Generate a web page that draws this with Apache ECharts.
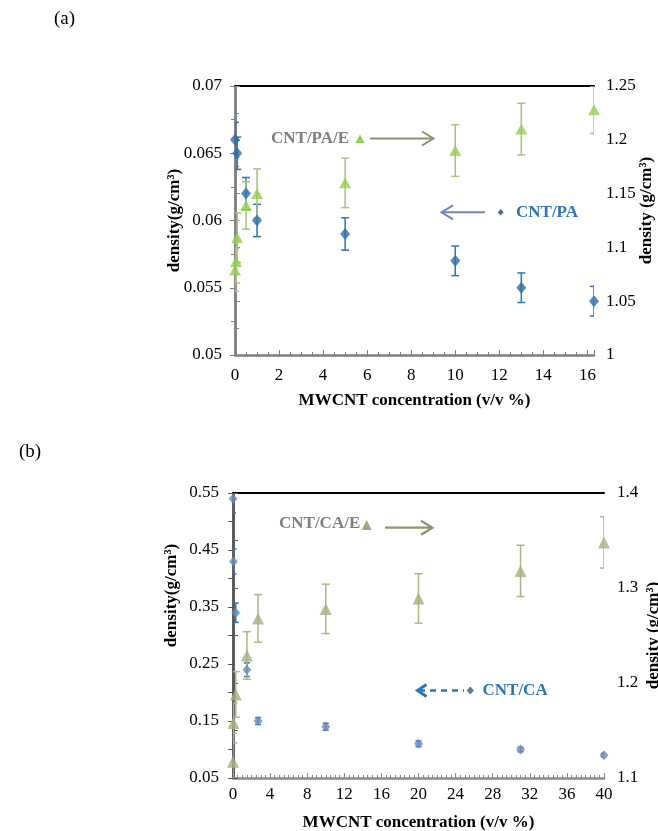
<!DOCTYPE html>
<html>
<head>
<meta charset="utf-8">
<script src="https://cdn.jsdelivr.net/npm/echarts@6/dist/echarts.min.js"></script>
<style>
html,body{margin:0;padding:0;background:#fff;}
#chart{width:658px;height:831px;}
</style>
</head>
<body>
<div id="chart"></div>
<script>
// ---- Panel (a) data ----
var paX   = [0, 0.1, 0.5, 1, 5, 10, 13, 16.3];
var paY   = [0.066, 0.065, 0.062, 0.060, 0.059, 0.057, 0.055, 0.054];
var paErr = [0.0013, 0.0012, 0.0012, 0.0012, 0.0012, 0.0011, 0.0011, 0.0011];

var paeX   = [0, 0.05, 0.1, 0.5, 1, 5, 10, 13, 16.3];
var paeY   = [1.079, 1.087, 1.109, 1.139, 1.150, 1.160, 1.190, 1.210, 1.228];
var paeErr = [0.020, 0.020, 0.023, 0.022, 0.023, 0.023, 0.024, 0.024, 0.022];

// ---- Panel (b) data ----
var caX   = [0, 0.05, 0.3, 1.5, 2.7, 10, 20, 31, 40];
var caY   = [0.54, 0.43, 0.34, 0.24, 0.15, 0.14, 0.11, 0.10, 0.09];
var caErr = [0.025, 0.022, 0.017, 0.012, 0.006, 0.006, 0.005, 0.004, 0.003];

var caeX   = [0, 0.05, 0.3, 1.5, 2.7, 10, 20, 31, 40];
var caeY   = [1.117, 1.158, 1.188, 1.229, 1.268, 1.278, 1.289, 1.318, 1.348];
var caeErr = [0.030, 0.021, 0.024, 0.025, 0.025, 0.026, 0.026, 0.027, 0.027];

// ---- tick settings ----
var xTicksA = {min: 0, max: 16.3, interval: 2};
var xTicksB = {min: 0, max: 40, interval: 4};
var yLeftA  = {min: 0.05, max: 0.07, interval: 0.005};
var yRightA = {min: 1, max: 1.25, interval: 0.05};
var yLeftB  = {min: 0.05, max: 0.55, interval: 0.05};
var yRightB = {min: 1.1, max: 1.4, interval: 0.05};

var FONT = '"Liberation Serif", "Times New Roman", serif';

function zip(xs, ys) { return xs.map(function (x, i) { return [x, ys[i]]; }); }
function zip3(xs, ys, es) { return xs.map(function (x, i) { return [x, ys[i], es[i]]; }); }

function errSeries(data, xi, yi, color, cap) {
  return {
    type: 'custom', xAxisIndex: xi, yAxisIndex: yi, clip: true, z: 1,
    data: data, encode: {x: 0, y: 1},
    renderItem: function (params, api) {
      var x = api.value(0), y = api.value(1), e = api.value(2);
      var hi = api.coord([x, y + e]), lo = api.coord([x, y - e]);
      var st = {stroke: color, lineWidth: 1.5};
      return {type: 'group', children: [
        {type: 'line', shape: {x1: hi[0], y1: hi[1], x2: lo[0], y2: lo[1]}, style: st},
        {type: 'line', shape: {x1: hi[0] - cap, y1: hi[1], x2: hi[0] + cap, y2: hi[1]}, style: st},
        {type: 'line', shape: {x1: lo[0] - cap, y1: lo[1], x2: lo[0] + cap, y2: lo[1]}, style: st}
      ]};
    }
  };
}

function numFmt(v) { return String(Number(v.toFixed(4))); }

var labelStyle = {fontFamily: FONT, fontSize: 17, color: '#000'};
function nameStyle(shiftUp) {
  var s = {fontFamily: FONT, fontSize: 17, fontWeight: 'bold', color: '#000'};
  if (shiftUp) s.padding = [0, 0, 0, shiftUp * 2];
  return s;
}

function xBottom(grid, t, lineColor, minorSplit, margin, nameGap) {
  return {
    type: 'value', gridIndex: grid, position: 'bottom',
    min: t.min, max: t.max, interval: t.interval,
    name: 'MWCNT concentration (v/v %)', nameLocation: 'middle', nameGap: nameGap,
    nameTextStyle: nameStyle(0),
    axisLine: {show: true, lineStyle: {color: lineColor, width: 2.5}},
    axisTick: {show: true, inside: true, length: 5, lineStyle: {color: lineColor, width: 1}},
    minorTick: {show: true, splitNumber: minorSplit, length: 3, lineStyle: {color: lineColor, width: 1}},
    splitLine: {show: false},
    axisLabel: Object.assign({margin: margin, showMaxLabel: true, formatter: function (v) {
      var k = Math.round(v / t.interval);
      return Math.abs(v - k * t.interval) < 1e-6 ? String(Math.round(v)) : '';
    }}, labelStyle)
  };
}
function xTop(grid, t) {
  return {
    type: 'value', gridIndex: grid, position: 'top', min: t.min, max: t.max,
    axisLine: {show: true, lineStyle: {color: '#000', width: 2}},
    axisTick: {show: false}, axisLabel: {show: false}, splitLine: {show: false}
  };
}
function yAxis(grid, pos, t, name, nameGap, shiftUp, lineColor, minorSplit, margin, fmt) {
  return {
    type: 'value', gridIndex: grid, position: pos,
    min: t.min, max: t.max, interval: t.interval,
    name: name, nameLocation: 'middle', nameGap: nameGap, nameRotate: 90,
    nameMoveOverlap: false,
    nameTextStyle: nameStyle(shiftUp),
    axisLine: {show: true, lineStyle: {color: lineColor, width: 2.5}},
    axisTick: {show: true, inside: false, length: 5, lineStyle: {color: lineColor, width: 1}},
    minorTick: {show: minorSplit > 0, splitNumber: minorSplit || 2, length: 4, lineStyle: {color: lineColor, width: 1}},
    splitLine: {show: false},
    axisLabel: Object.assign({margin: margin, formatter: fmt}, labelStyle)
  };
}

function fmtOddTenths(v) { var k = Math.round(v * 100); return k % 10 === 5 ? String(k / 100) : ''; }
function fmtTenths(v) { var k = Math.round(v * 100); return k % 10 === 0 ? String(k / 100) : ''; }

var chart = echarts.init(document.getElementById('chart'), null, {renderer: 'canvas'});

var gAnno = [];
function txt(s, x, y, color, size, weight) {
  gAnno.push({type: 'text', z: 100, style: {text: s, x: x, y: y, fill: color,
    font: (weight || 'bold') + ' ' + size + 'px ' + FONT, textAlign: 'left', textVerticalAlign: 'middle',
    align: 'left', verticalAlign: 'middle'}});
}
function line(x1, y1, x2, y2, color, w, dash) {
  gAnno.push({type: 'line', z: 100, shape: {x1: x1, y1: y1, x2: x2, y2: y2},
    style: {stroke: color, lineWidth: w, lineDash: dash || null}});
}
function chevron(pts, color, w) {
  gAnno.push({type: 'polyline', z: 100, shape: {points: pts}, style: {stroke: color, lineWidth: w, fill: null}});
}
function poly(pts, color) {
  gAnno.push({type: 'polygon', z: 100, shape: {points: pts}, style: {fill: color}});
}

// panel labels
txt('(a)', 54, 19, '#000', 19, 'normal');
txt('(b)', 19, 452, '#000', 19, 'normal');

// (a) annotations
txt('CNT/PA/E', 271, 138.5, '#7f7f7f', 17);
poly([[360, 134.5], [355.5, 143], [364.5, 143]], '#92d050');
line(370, 138.5, 433, 138.5, '#8a946e', 2);
chevron([[422, 131.5], [433.5, 138.5], [422, 145.5]], '#8a946e', 2);

txt('CNT/PA', 516, 212.3, '#2e75b6', 17);
poly([[500.7, 209], [503.7, 212.3], [500.7, 215.6], [497.7, 212.3]], '#4a6e9c');
line(442, 212.3, 485, 212.3, '#6f88b5', 2);
chevron([[453, 205.3], [441.5, 212.3], [453, 219.3]], '#6f88b5', 2);

// (b) annotations
txt('CNT/CA/E', 279, 523.5, '#7f7f7f', 17);
poly([[366.7, 520], [361.7, 530], [371.7, 530]], '#9bab7a');
line(385, 527.7, 432, 527.7, '#8a946e', 2.2);
chevron([[421, 520.7], [432.5, 527.7], [421, 534.7]], '#8a946e', 2.2);

txt('CNT/CA', 482.5, 690.5, '#2e75b6', 17);
poly([[470.3, 686.5], [474, 690.5], [470.3, 694.5], [466.6, 690.5]], '#5a7ba8');
line(419, 690.5, 464, 690.5, '#2e75b6', 2.5, [6, 5]);
chevron([[426.5, 684.5], [417.5, 690.5], [426.5, 696.5]], '#2e75b6', 3);

var option = {
  animation: false,
  backgroundColor: '#fff',
  grid: [
    {left: 235, top: 86, width: 359, height: 269, containLabel: false, outerBoundsMode: 'none'},
    {left: 233, top: 493, width: 371, height: 285, containLabel: false, outerBoundsMode: 'none'}
  ],
  xAxis: [
    xBottom(0, xTicksA, '#808080', 4, 12, 37),
    xTop(0, xTicksA),
    xBottom(1, xTicksB, '#8a8a8a', 8, 8, 36),
    xTop(1, xTicksB)
  ],
  yAxis: [
    yAxis(0, 'left', yLeftA, 'density(g/cm³)', 52, 0, '#808080', 2, 13, numFmt),
    yAxis(0, 'right', yRightA, 'density (g/cm³)', 44, 10, '#808080', 2, 12, numFmt),
    yAxis(1, 'left', yLeftB, 'density(g/cm³)', 53, 40, '#555555', 0, 14, fmtOddTenths),
    yAxis(1, 'right', yRightB, 'density (g/cm³)', 41, 0, '#555555', 0, 13, fmtTenths)
  ],
  graphic: gAnno,
  series: [
    errSeries(zip3(paX, paY, paErr), 0, 0, '#2e75b6', 4),
    {type: 'scatter', name: 'CNT/PA', xAxisIndex: 0, yAxisIndex: 0, data: zip(paX, paY),
      symbol: 'diamond', symbolSize: [10, 12], itemStyle: {color: '#2c6ea8'}, z: 3},
    errSeries(zip3(paeX, paeY, paeErr), 0, 1, '#a5c47c', 4),
    {type: 'scatter', name: 'CNT/PA/E', xAxisIndex: 0, yAxisIndex: 1, data: zip(paeX, paeY),
      symbol: 'triangle', symbolSize: [12, 11], itemStyle: {color: '#92d050'}, z: 4},

    errSeries(zip3(caX, caY, caErr), 2, 2, '#2e75b6', 3),
    {type: 'scatter', name: 'CNT/CA', xAxisIndex: 2, yAxisIndex: 2, data: zip(caX, caY),
      symbol: 'diamond', symbolSize: [9, 10], itemStyle: {color: '#6b8cba'}, z: 3},
    errSeries(zip3(caeX, caeY, caeErr), 2, 3, '#a8ba84', 4),
    {type: 'scatter', name: 'CNT/CA/E', xAxisIndex: 2, yAxisIndex: 3, data: zip(caeX, caeY),
      symbol: 'triangle', symbolSize: [12, 12], itemStyle: {color: '#a2b17f'}, z: 4}
  ]
};
chart.setOption(option);
</script>
</body>
</html>
